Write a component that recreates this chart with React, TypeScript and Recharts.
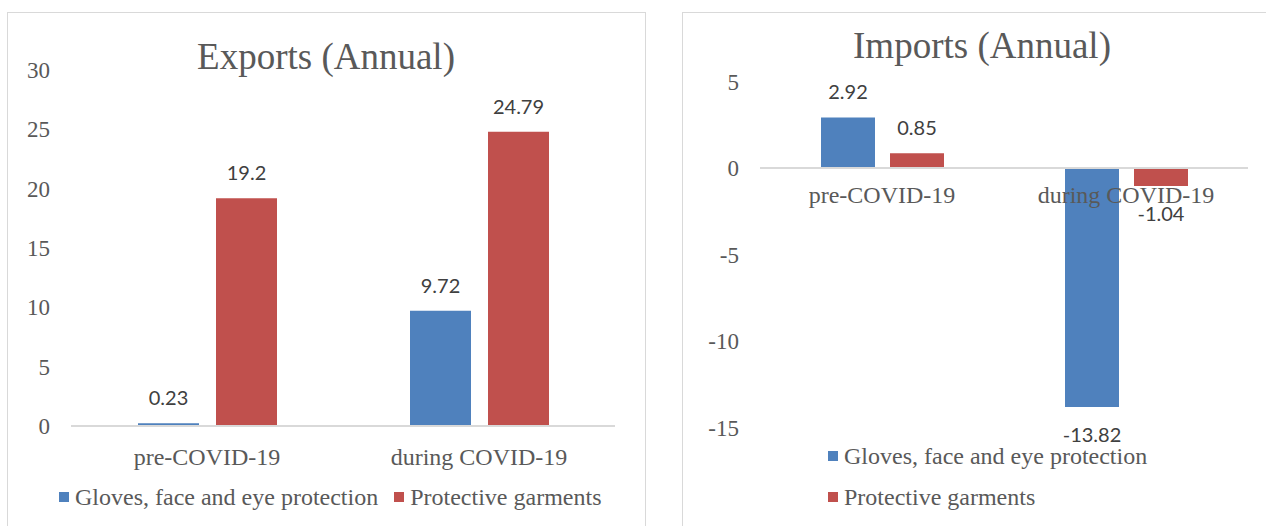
import React from "react";
import { BarChart, Bar, XAxis, YAxis, ReferenceLine, LabelList } from "recharts";

const categories = ["pre-COVID-19", "during COVID-19"];
const seriesNames = ["Gloves, face and eye protection", "Protective garments"];
const seriesColors = ["#4F81BD", "#C0504D"];

const exportsGloves = [0.23, 9.72];
const exportsGarments = [19.2, 24.79];
const importsGloves = [2.92, -13.82];
const importsGarments = [0.85, -1.04];

const exportTicks = [0, 5, 10, 15, 20, 25, 30];
const importTicks = [-15, -10, -5, 0, 5];

const exportsData = categories.map((c, i) => ({
  name: c,
  gloves: exportsGloves[i],
  garments: exportsGarments[i],
}));
const importsData = categories.map((c, i) => ({
  name: c,
  gloves: importsGloves[i],
  garments: importsGarments[i],
}));

const serif = "'Liberation Serif', 'Times New Roman', serif";
const grey = "#595959";
const border = "#d9d9d9";

// value label: above positive bars, below negative ones
const ValueLabel = (props: any) => {
  const vb = props.viewBox && props.viewBox.width != null ? props.viewBox : props;
  const { x, y, width, height } = vb;
  const value = props.value;
  const top = Math.min(y, y + height);
  const bottom = Math.max(y, y + height);
  return (
    <text
      x={x + width / 2}
      y={value < 0 ? bottom + 35 : top - 18}
      textAnchor="middle"
      fontFamily="Lato, 'Noto Sans', sans-serif"
      fontSize={20}
      fill="#404040"
    >
      {value}
    </text>
  );
};

// imports chart: plot geometry so category labels sit under the zero line
const impTop = 81.5;
const impPlotH = 346;
const impZeroY = impTop + (impPlotH * 5) / 20;

const ZeroTick = (props: any) => {
  const { x, payload } = props;
  return (
    <text
      x={x}
      y={impZeroY + 18}
      dy="0.71em"
      textAnchor="middle"
      fontFamily={serif}
      fontSize={24}
      fill={grey}
    >
      {payload.value}
    </text>
  );
};

const Swatch = ({ color }: { color: string }) => (
  <span
    style={{
      display: "inline-block",
      width: 10,
      height: 10,
      background: color,
      marginRight: 6,
      verticalAlign: "middle",
      position: "relative",
      top: -2,
    }}
  />
);

export default function App() {
  return (
    <div
      style={{
        position: "relative",
        width: 1266,
        height: 526,
        overflow: "hidden",
        background: "#fff",
      }}
    >
      <style>{"body{margin:0}"}</style>

      {/* Exports panel */}
      <div
        style={{
          position: "absolute",
          left: 7,
          top: 12,
          width: 637,
          height: 530,
          border: `1px solid ${border}`,
        }}
      />
      <div
        style={{
          position: "absolute",
          left: 0,
          top: 33,
          width: 652,
          textAlign: "center",
          fontFamily: serif,
          fontSize: 37,
          color: grey,
          lineHeight: "48px",
        }}
      >
        Exports (Annual)
      </div>
      <div style={{ position: "absolute", left: 0, top: 0 }}>
        <BarChart
          width={660}
          height={526}
          data={exportsData}
          margin={{ top: 70, right: 45, bottom: 60, left: 11 }}
          barSize={61}
          barGap={17}
        >
          <XAxis
            dataKey="name"
            height={40}
            axisLine={{ stroke: border, strokeWidth: 2 }}
            tickLine={false}
            tickSize={0}
            tickMargin={22}
            tick={{ fontFamily: serif, fontSize: 24, fill: grey }}
          />
          <YAxis
            width={60}
            domain={[0, 30]}
            ticks={exportTicks}
            axisLine={false}
            tickLine={false}
            tickSize={0}
            tickMargin={21}
            tick={{ fontFamily: serif, fontSize: 23, fill: grey }}
          />
          <Bar dataKey="gloves" name={seriesNames[0]} fill={seriesColors[0]} isAnimationActive={false}>
            <LabelList dataKey="gloves" content={ValueLabel} />
          </Bar>
          <Bar dataKey="garments" name={seriesNames[1]} fill={seriesColors[1]} isAnimationActive={false}>
            <LabelList dataKey="garments" content={ValueLabel} />
          </Bar>
        </BarChart>
      </div>
      <div
        style={{
          position: "absolute",
          left: 59,
          top: 483,
          fontFamily: serif,
          fontSize: 24,
          color: grey,
          whiteSpace: "nowrap",
          lineHeight: "28px",
        }}
      >
        {seriesNames.map((s, i) => (
          <span key={s} style={{ marginRight: 16 }}>
            <Swatch color={seriesColors[i]} />
            {s}
          </span>
        ))}
      </div>

      {/* Imports panel */}
      <div
        style={{
          position: "absolute",
          left: 682,
          top: 12,
          width: 600,
          height: 530,
          border: `1px solid ${border}`,
        }}
      />
      <div
        style={{
          position: "absolute",
          left: 682,
          top: 22,
          width: 600,
          textAlign: "center",
          fontFamily: serif,
          fontSize: 37,
          color: grey,
          lineHeight: "48px",
        }}
      >
        Imports (Annual)
      </div>
      <div style={{ position: "absolute", left: 682, top: 0 }}>
        <BarChart
          width={584}
          height={526}
          data={importsData}
          margin={{ top: impTop, right: 18, bottom: 526 - impTop - impPlotH - 40, left: 18 }}
          barSize={54}
          barGap={15}
        >
          <XAxis
            dataKey="name"
            height={40}
            axisLine={false}
            tickLine={false}
            tick={<ZeroTick />}
          />
          <YAxis
            width={60}
            domain={[-15, 5]}
            ticks={importTicks}
            axisLine={false}
            tickLine={false}
            tickSize={0}
            tickMargin={21}
            tick={{ fontFamily: serif, fontSize: 23, fill: grey }}
          />
          <Bar dataKey="gloves" name={seriesNames[0]} fill={seriesColors[0]} isAnimationActive={false}>
            <LabelList dataKey="gloves" content={ValueLabel} />
          </Bar>
          <Bar dataKey="garments" name={seriesNames[1]} fill={seriesColors[1]} isAnimationActive={false}>
            <LabelList dataKey="garments" content={ValueLabel} />
          </Bar>
          <ReferenceLine y={0} stroke={border} strokeWidth={2} />
        </BarChart>
      </div>
      <div
        style={{
          position: "absolute",
          left: 828,
          top: 443,
          fontFamily: serif,
          fontSize: 24,
          color: grey,
          whiteSpace: "nowrap",
          lineHeight: "27px",
        }}
      >
        {seriesNames.map((s, i) => (
          <div key={s} style={{ marginBottom: 14 }}>
            <Swatch color={seriesColors[i]} />
            {s}
          </div>
        ))}
      </div>
    </div>
  );
}
